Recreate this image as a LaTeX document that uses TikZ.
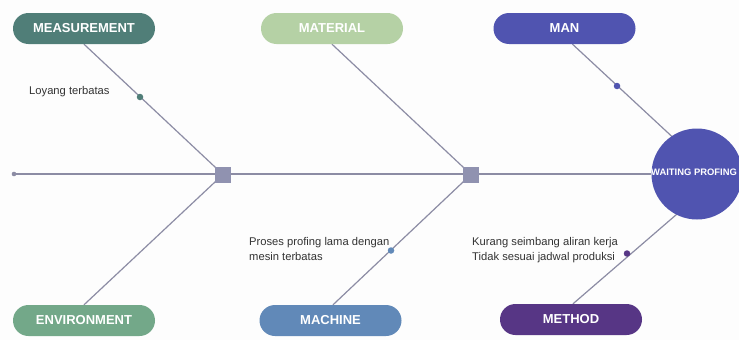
\documentclass[tikz,border=0pt]{standalone}
\usepackage{fontspec}
\setmainfont{Liberation Sans}
\usetikzlibrary{backgrounds,calc}
\pgfdeclarelayer{bones}
\pgfsetlayers{background,bones,main}
\definecolor{bgc}{HTML}{FDFDFD}
\definecolor{bone}{HTML}{8C8CA4}
\definecolor{joint}{HTML}{9092B0}
\definecolor{cmeas}{HTML}{507E78}
\definecolor{cmat}{HTML}{B5D1A5}
\definecolor{cman}{HTML}{5054B0}
\definecolor{cenv}{HTML}{73A889}
\definecolor{cmach}{HTML}{6189B8}
\definecolor{cmeth}{HTML}{573685}
\tikzset{
  pill/.style={fill=#1, rounded corners=15.5pt, minimum width=142pt, minimum height=31pt,
    text=white, font=\fontsize{13}{15}\selectfont\bfseries, inner sep=0pt},
  boneline/.style={draw=bone, line width=1.2pt},
  joinbox/.style={fill=joint, minimum size=16pt, inner sep=0pt},
  causedot/.style={circle, fill=#1, minimum size=6.5pt, inner sep=0pt},
  cause/.style={font=\fontsize{11.2}{15}\selectfont, text=black!80, align=left, inner sep=0pt},
}
\begin{document}
\begin{tikzpicture}[x=1pt,y=-1pt]
\clip (0,0) rectangle (739,340);
\begin{pgfonlayer}{background}
  \fill[bgc] (0,0) rectangle (739,340);
\end{pgfonlayer}

% category pills
\node[pill=cmeas] (meas) at (84,28.5) {MEASUREMENT};
\node[pill=cmat]  (mat)  at (332,28.5) {MATERIAL};
\node[pill=cman]  (man)  at (564.5,28.5) {MAN};
\node[pill=cenv]  (env)  at (84,320.5) {ENVIRONMENT};
\node[pill=cmach] (mach) at (330.5,320.5) {MACHINE};
\node[pill=cmeth] (meth) at (571,319.5) {METHOD};

% effect head
\node[circle, fill=cman, minimum size=91pt, inner sep=0pt] (wp) at (697,174) {};
\node[anchor=west, text=white, font=\fontsize{9.4}{11}\selectfont\bfseries, inner sep=0pt]
  (wptext) at (651,172) {WAITING PROFING};

% spine joints
\node[joinbox] (j1) at (223,174.5) {};
\node[joinbox] (j2) at (471,174.5) {};
\coordinate (tail) at (14,174);
\coordinate (manend) at (680,144);
\coordinate (methend) at (684,208);

\begin{pgfonlayer}{bones}
  \draw[boneline] (tail) -- (wp.west);
  \draw[boneline] (meas.south) -- (j1.center);
  \draw[boneline] (env.north) -- (j1.center);
  \draw[boneline] (mat.south) -- (j2.center);
  \draw[boneline] ($(mach.north)+(2.5,0)$) -- (j2.center);
  \draw[boneline] ($(man.south)+(8,0)$) -- (manend);
  \draw[boneline] ($(meth.north)+(2,0)$) -- (methend);
\end{pgfonlayer}

\fill[bone] (tail) circle (2.3pt);

% cause markers and texts
\node[causedot=cmeas] (d1) at (140,97) {};
\node[causedot=cman]  (d2) at (617,86) {};
\node[causedot=cmach] (d3) at (391,250.5) {};
\node[causedot=cmeth] (d4) at (627,253.5) {};

\node[cause, anchor=west] (c1) at (29,92) {Loyang terbatas};
\node[cause, anchor=north west] (c3) at (249,237) {Proses profing lama dengan\\mesin terbatas};
\node[cause, anchor=north west] (c4) at (472,237) {Kurang seimbang aliran kerja\\Tidak sesuai jadwal produksi};
\end{tikzpicture}
\end{document}
